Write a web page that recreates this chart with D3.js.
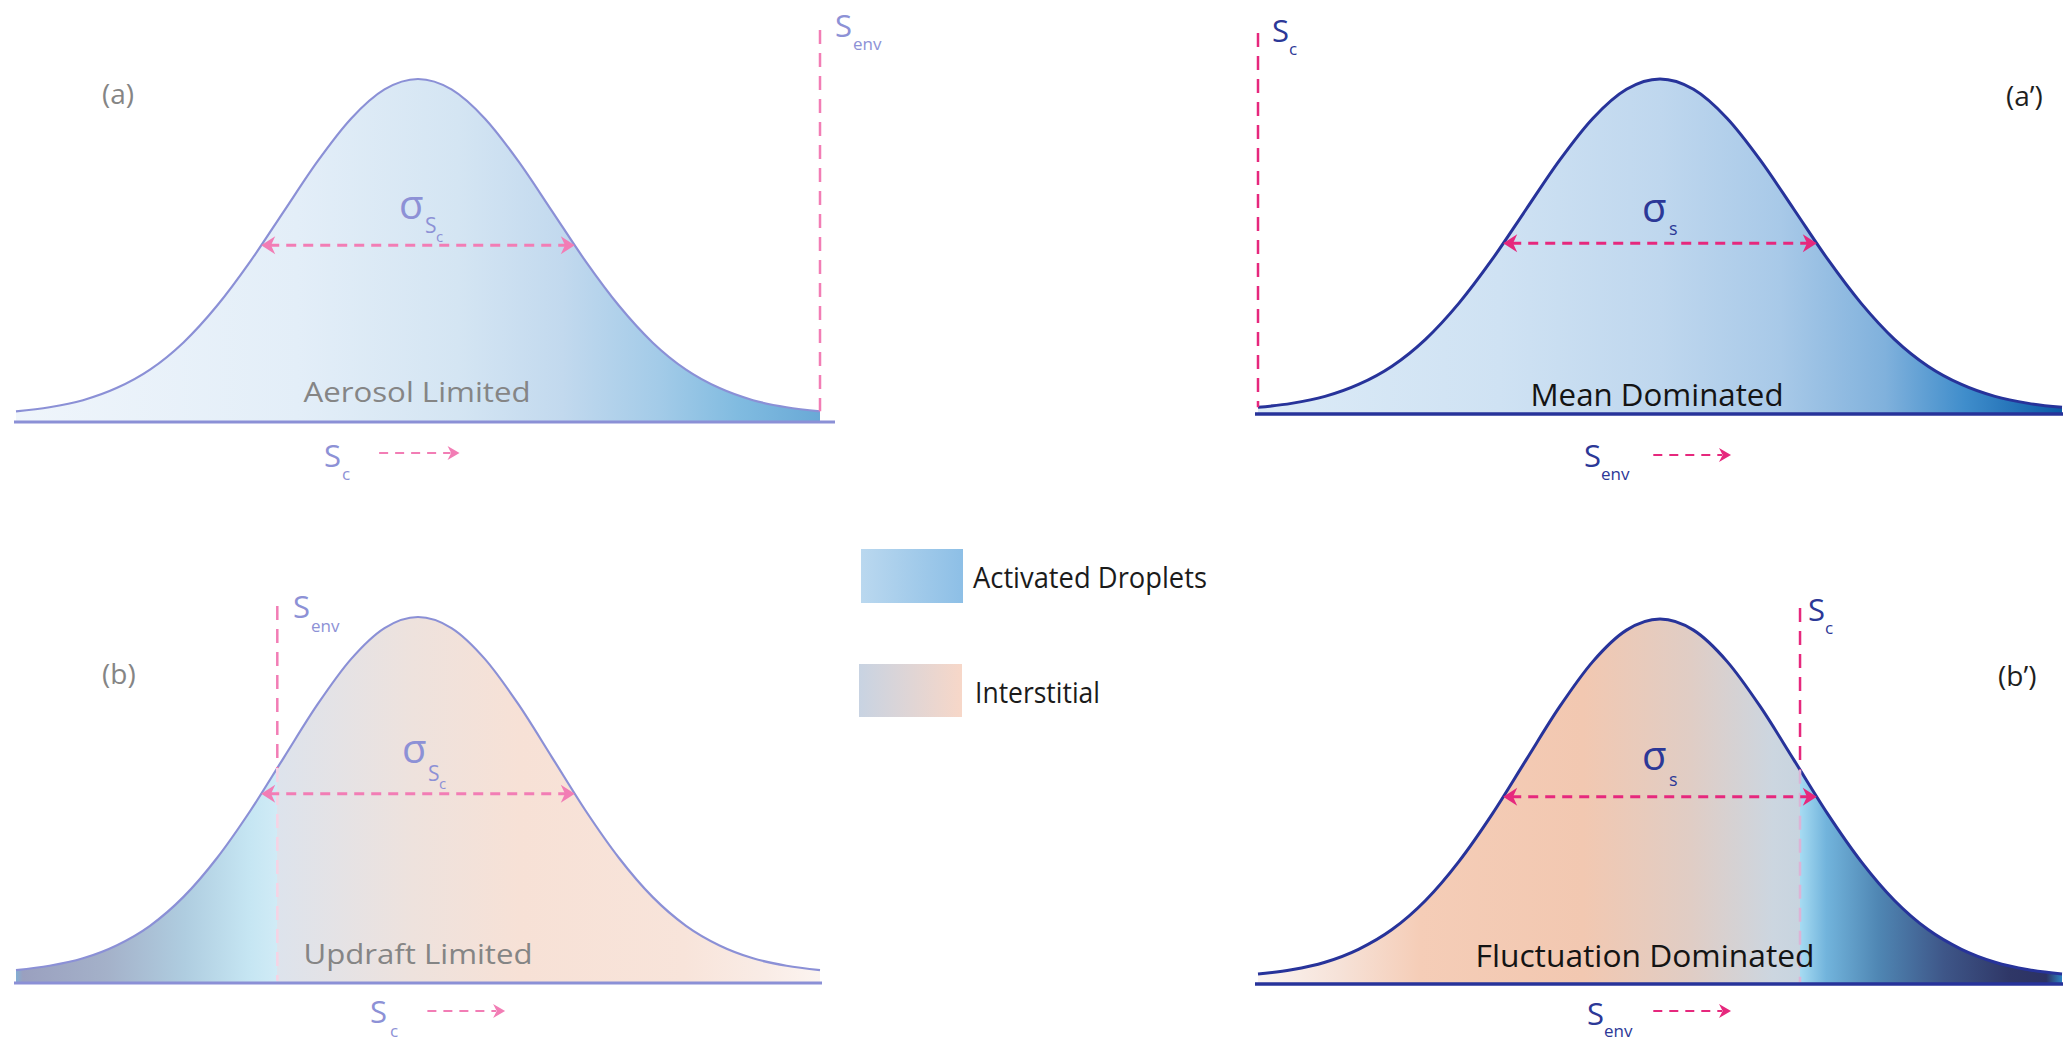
<!DOCTYPE html>
<html><head><meta charset="utf-8">
<script src="https://cdn.jsdelivr.net/npm/d3@7"></script>
<style>html,body{margin:0;padding:0;background:#fff;} svg{display:block;}</style>
</head><body>
<svg id="chart" width="2067" height="1041"></svg>
<script>
// ---------------- data ----------------
const sigmaUnits = [-3,-2.75,-2.5,-2.25,-2,-1.75,-1.5,-1.25,-1,-0.75,-0.5,-0.25,0,0.25,0.5,0.75,1,1.25,1.5,1.75,2,2.25,2.5,2.75,3];
const density    = [0.011,0.023,0.044,0.080,0.135,0.216,0.325,0.458,0.607,0.755,0.882,0.969,1.0,0.969,0.882,0.755,0.607,0.458,0.325,0.216,0.135,0.080,0.044,0.023,0.011];
const panelIds = ["(a)","(a’)","(b)","(b’)"];
const regimes = ["Aerosol Limited","Mean Dominated","Updraft Limited","Fluctuation Dominated"];
const thresholdNames = [["S","env"],["S","c"],["S","env"],["S","c"]];
const thresholdAt = [3, -3, -1.05, 1.045];
const movingNames = [["S","c"],["S","env"],["S","c"],["S","env"]];
const sigmaSubs = [["S","c"],["s",""],["S","c"],["s",""]];
const sigmaSpan = [-1.17, 1.17];
const sigmaLevel = 0.505;
const shiftArrow = [[-0.29,0.31],[-0.05,0.53],[0.07,0.65],[-0.05,0.53]];
const legendItems = ["Activated Droplets","Interstitial"];

// ---------------- layout / style ----------------
const light = {stroke:"#8b90d6", text:"#8d91d6", pink:"#f27db5", pinkIn:"#f6d3e4", tag:"#858585", regime:"#858585", sw:2.2, aw:3};
const dark  = {stroke:"#27339a", text:"#2c3897", pink:"#e6287d", pinkIn:"#dcb4d6", tag:"#1e1e1e", regime:"#141414", sw:3, aw:3.5};
const layout = [
 {x0:16,  x1:820,  base:422, lift:7, peak:79,  axis:[14,835],   st:light,
  tag:[102,104], regime:[417,402,227,28], thrTop:30, thr:[835,37,853,50],
  sig:[399,219,425,233,436,242], mv:[324,467,342,480], mvY:453,
  grads:[{from:16,to:820,stops:[[0,"#eff5fb"],[0.35,"#e3eef8"],[0.55,"#d4e5f3"],[0.68,"#c2d9ee"],[0.8,"#a3cbe8"],[0.9,"#80bbe0"],[1,"#69a9d6"]]}]},
 {x0:1258,x1:2062, base:414, lift:3, peak:79,  axis:[1255,2063], st:dark,
  tag:[2006,106], regime:[1657,406,253,31], thrTop:33, thr:[1272,42,1289,55],
  sig:[1642,222,1669,235,0,0], mv:[1584,467,1601,480], mvY:455,
  grads:[{from:1258,to:2062,stops:[[0,"#dcebf7"],[0.3,"#cfe2f3"],[0.5,"#bfd7ee"],[0.65,"#a8c9e8"],[0.78,"#80b1dc"],[0.88,"#3f8dcb"],[1,"#0b5ba6"]]}]},
 {x0:16,  x1:820,  base:983, lift:9, peak:617, axis:[14,822],   st:light,
  tag:[102,684], regime:[418,964,229,28], thrTop:606, thr:[293,618,311,632],
  sig:[402,763,428,781,439,789], mv:[370,1023,390,1037], mvY:1011,
  grads:[{from:15,to:277,stops:[[0,"#7fb1d7"],[0.03,"#9aa0bf"],[0.35,"#a4b1c9"],[0.65,"#afcde0"],[0.9,"#c6e6f3"],[1,"#d0ebf6"]]},
         {from:277,to:820,stops:[[0,"#dde3ec"],[0.25,"#eee2dd"],[0.45,"#f7e1d6"],[0.75,"#f8e4da"],[0.9,"#f9ece6"],[1,"#fcf4f0"]]}]},
 {x0:1258,x1:2062, base:984, lift:6, peak:619, axis:[1255,2063], st:dark,
  tag:[1998,686], regime:[1645,967,339,31], thrTop:608, thr:[1808,621,1825,634],
  sig:[1642,770,1669,786,0,0], mv:[1587,1025,1604,1037], mvY:1011,
  grads:[{from:1258,to:1800,stops:[[0,"#fbf4f1"],[0.15,"#f6e2d8"],[0.3,"#f5cdb7"],[0.6,"#f2c8b1"],[0.8,"#e0cdc5"],[0.95,"#ccd6e0"],[1,"#c8d4df"]]},
         {from:1800,to:2062,stops:[[0,"#a6dbf2"],[0.1,"#72b4dc"],[0.3,"#4f86b3"],[0.55,"#3e5688"],[0.8,"#2f3767"],[0.94,"#2c3263"],[1,"#2d83c2"]]}]}
];

const FONT = "'Open Sans', 'Noto Sans', sans-serif";
const svg = d3.select("#chart");
const defs = svg.append("defs");
const pts = sigmaUnits.map((u,i)=>({u, v:density[i]}));

function arrowHead(g, x, y, dir, color, len, half){
  g.append("path")
    .attr("d", `M${x},${y} L${x-dir*len},${y-half} L${x-dir*len*0.7},${y} L${x-dir*len},${y+half} Z`)
    .attr("fill", color);
}
function densityAt(u){
  const j = d3.bisectLeft(sigmaUnits, u);
  if (j <= 0) return density[0];
  if (j >= sigmaUnits.length) return density[density.length-1];
  const t = (u - sigmaUnits[j-1]) / (sigmaUnits[j] - sigmaUnits[j-1]);
  return density[j-1] + t*(density[j]-density[j-1]);
}

layout.forEach((L, i) => {
  const st = L.st;
  const x = d3.scaleLinear().domain([-3,3]).range([L.x0, L.x1]);
  const y = d3.scaleLinear().domain([0,1]).range([L.base - L.lift, L.peak]);
  const g = svg.append("g");
  const thrX = x(thresholdAt[i]);

  const area = d3.area().x(d=>x(d.u)).y0(L.base).y1(d=>y(d.v)).curve(d3.curveMonotoneX);
  const line = d3.line().x(d=>x(d.u)).y(d=>y(d.v)).curve(d3.curveMonotoneX);

  L.grads.forEach((gr, k) => {
    const id = `grad${i}_${k}`;
    const lg = defs.append("linearGradient").attr("id", id)
      .attr("gradientUnits","userSpaceOnUse")
      .attr("x1", gr.from).attr("x2", gr.to).attr("y1",0).attr("y2",0);
    gr.stops.forEach(s => lg.append("stop").attr("offset", s[0]).attr("stop-color", s[1]));
    const cid = `clip${i}_${k}`;
    defs.append("clipPath").attr("id", cid).append("rect")
      .attr("x", gr.from).attr("y", 0).attr("width", gr.to - gr.from).attr("height", 1041);
    g.append("path").datum(pts).attr("d", area)
      .attr("fill", `url(#${id})`)
      .attr("clip-path", L.grads.length > 1 ? `url(#${cid})` : null);
  });

  g.append("path").datum(pts).attr("d", line)
    .attr("fill","none").attr("stroke", st.stroke).attr("stroke-width", st.sw);

  g.append("line").attr("x1", L.axis[0]).attr("x2", L.axis[1])
    .attr("y1", L.base).attr("y2", L.base)
    .attr("stroke", st.stroke).attr("stroke-width", st.aw);

  const curveYAtThr = y(densityAt(thresholdAt[i]));
  g.append("line").attr("x1", thrX).attr("x2", thrX)
    .attr("y1", L.thrTop).attr("y2", curveYAtThr)
    .attr("stroke", st.pink).attr("stroke-width", 2.5).attr("stroke-dasharray","14,9");
  if (Math.abs(thresholdAt[i]) < 2.9) {
    g.append("line").attr("x1", thrX).attr("x2", thrX)
      .attr("y1", curveYAtThr).attr("y2", L.base - 2)
      .attr("stroke", st.pinkIn).attr("stroke-width", 2.5).attr("stroke-dasharray","14,9");
  }

  g.append("text").attr("x", L.thr[0]).attr("y", L.thr[1]).text(thresholdNames[i][0])
    .attr("font-family", FONT).attr("font-size", 31).attr("fill", st.text);
  g.append("text").attr("x", L.thr[2]).attr("y", L.thr[3]).text(thresholdNames[i][1])
    .attr("font-family", FONT).attr("font-size", 17).attr("fill", st.text);

  const sy = y(sigmaLevel), sx0 = x(sigmaSpan[0]), sx1 = x(sigmaSpan[1]);
  g.append("line").attr("x1", sx0 + 8).attr("x2", sx1 - 8).attr("y1", sy).attr("y2", sy)
    .attr("stroke", st.pink).attr("stroke-width", 3).attr("stroke-dasharray","10,7");
  arrowHead(g, sx0, sy, -1, st.pink, 14, 9);
  arrowHead(g, sx1, sy, 1, st.pink, 14, 9);

  g.append("text").attr("x", L.sig[0]).attr("y", L.sig[1]).text("σ")
    .attr("font-family", FONT).attr("font-size", 40).attr("fill", st.text);
  g.append("text").attr("x", L.sig[2]).attr("y", L.sig[3]).text(sigmaSubs[i][0])
    .attr("font-family", FONT).attr("font-size", sigmaSubs[i][1] ? 21 : 18).attr("fill", st.text);
  if (sigmaSubs[i][1]) {
    g.append("text").attr("x", L.sig[4]).attr("y", L.sig[5]).text(sigmaSubs[i][1])
      .attr("font-family", FONT).attr("font-size", 15).attr("fill", st.text);
  }

  g.append("text").attr("x", L.regime[0]).attr("y", L.regime[1]).text(regimes[i])
    .attr("text-anchor","middle").attr("font-family", FONT).attr("font-size", L.regime[3])
    .attr("textLength", L.regime[2]).attr("lengthAdjust","spacingAndGlyphs")
    .attr("fill", st.regime);

  g.append("text").attr("x", L.tag[0]).attr("y", L.tag[1]).text(panelIds[i])
    .attr("font-family", FONT).attr("font-size", 28).attr("fill", st.tag);

  g.append("text").attr("x", L.mv[0]).attr("y", L.mv[1]).text(movingNames[i][0])
    .attr("font-family", FONT).attr("font-size", 31).attr("fill", st.text);
  g.append("text").attr("x", L.mv[2]).attr("y", L.mv[3]).text(movingNames[i][1])
    .attr("font-family", FONT).attr("font-size", 17).attr("fill", st.text);
  const ax0 = x(shiftArrow[i][0]), ax1 = x(shiftArrow[i][1]);
  g.append("line").attr("x1", ax0).attr("x2", ax1 - 9).attr("y1", L.mvY).attr("y2", L.mvY)
    .attr("stroke", st.pink).attr("stroke-width", 2).attr("stroke-dasharray","9,7");
  arrowHead(g, ax1, L.mvY, 1, st.pink, 12, 7);
});

// ---------------- legend ----------------
const legendLayout = [
  {rect:[861,549,102,54], text:[973,588,234], stops:[[0,"#bad8ef"],[1,"#8dbfe6"]]},
  {rect:[859,664,103,53], text:[975,703,125], stops:[[0,"#c8d3e2"],[1,"#f7d7c8"]]}
];
legendItems.forEach((name, k) => {
  const L = legendLayout[k];
  const id = `leg${k}`;
  const lg = defs.append("linearGradient").attr("id", id).attr("x1","0").attr("x2","1").attr("y1","0").attr("y2","0");
  L.stops.forEach(s => lg.append("stop").attr("offset", s[0]).attr("stop-color", s[1]));
  svg.append("rect").attr("x", L.rect[0]).attr("y", L.rect[1]).attr("width", L.rect[2]).attr("height", L.rect[3])
    .attr("fill", `url(#${id})`);
  svg.append("text").attr("x", L.text[0]).attr("y", L.text[1]).text(name)
    .attr("font-family", FONT).attr("font-size", 29).attr("fill", "#1b1b1b")
    .attr("textLength", L.text[2]).attr("lengthAdjust","spacingAndGlyphs");
});
</script>
</body></html>
